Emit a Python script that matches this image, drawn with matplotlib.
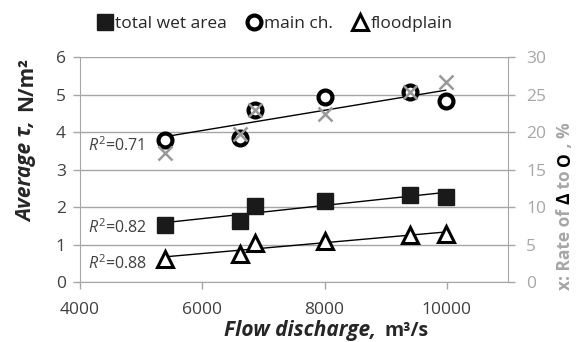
import numpy as np
import matplotlib
matplotlib.use("Agg")
import matplotlib.pyplot as plt
from matplotlib.lines import Line2D

plt.rcParams['font.family'] = ['Open Sans', 'DejaVu Sans']
plt.rcParams['mathtext.fontset'] = 'custom'
plt.rcParams['mathtext.rm'] = 'Open Sans'
plt.rcParams['mathtext.it'] = 'Open Sans:italic'

# flow discharge (m3/s)
discharge = [5400, 6620, 6870, 8000, 9400, 9980]
# average shear stress (N/m2)
tau_total = [1.53, 1.63, 2.04, 2.16, 2.33, 2.28]
tau_main = [3.78, 3.84, 4.58, 4.94, 5.06, 4.83]
tau_flood = [0.63, 0.74, 1.05, 1.09, 1.27, 1.28]
# rate of floodplain to main channel (%)
rate = [17.2, 19.8, 22.9, 22.4, 25.3, 26.7]

r2_labels = ["0.71", "0.82", "0.88"]
r2_pos = [3.63, 1.44, 0.5]

grey = '#a6a6a6'
dark = '#404040'

fig = plt.figure(figsize=(5.78, 3.42), dpi=100)
ax = fig.add_axes([0.138, 0.175, 0.741, 0.658])

ax.set_xlim(4000, 11000)
ax.set_ylim(0, 6)
ax.set_xticks([4000, 6000, 8000, 10000])
ax.set_yticks(range(7))
ax.grid(axis='y', color=grey, lw=1)
ax.set_axisbelow(True)
for s in ['left', 'bottom', 'right']:
    ax.spines[s].set_color(grey)
ax.spines['top'].set_visible(False)
ax.tick_params(colors=grey, labelcolor=dark, labelsize=12.5, length=5, width=1)
ax.tick_params(axis='x', pad=9)
ax.tick_params(axis='y', pad=5)

x = np.array(discharge)
xs = np.array([x.min(), x.max()])
for ys in [tau_main, tau_total, tau_flood]:
    k, b = np.polyfit(x, ys, 1)
    ax.plot(xs, k * xs + b, color='black', lw=1, zorder=2)

ax.plot(discharge, tau_total, 's', ms=12, color='#1a1a1a', zorder=3)
ax.plot(discharge, tau_main, 'o', ms=10, mfc='white', mec='black', mew=3, zorder=3)
ax.plot(discharge, tau_flood, '^', ms=11, mfc='white', mec='black', mew=2.2, zorder=3)

for lab, yp in zip(r2_labels, r2_pos):
    ax.text(4140, yp, "$R^2$=" + lab, fontsize=11.5, color=dark, va='center')

ax2 = ax.twinx()
ax2.set_ylim(0, 30)
ax2.set_yticks(range(0, 31, 5))
for s in ['left', 'bottom', 'right', 'top']:
    ax2.spines[s].set_visible(False)
ax2.tick_params(colors=grey, labelcolor=grey, labelsize=12.5, length=5, width=1, pad=8)
ax2.plot(discharge, rate, 'x', ms=10, mew=1.8, color='#999999', zorder=4)

# x label
fig.text(376 / 578, 0.018, "Flow discharge,", fontsize=15, fontweight='bold',
         style='italic', color='#262626', ha='right')
fig.text(384 / 578, 0.018, "m\u00b3/s", fontsize=14, fontweight='bold',
         color='#262626', ha='left')

# left y label
fig.text(27 / 578, 1 - 121 / 342, "Average \u03c4,", fontsize=15, fontweight='bold',
         style='italic', color='#262626', rotation=90, ha='center', va='top')
fig.text(27 / 578, 1 - 111 / 342, "N/m\u00b2", fontsize=15, fontweight='bold',
         color='#262626', rotation=90, ha='center', va='bottom')

# right y label, pieces stacked bottom to top
pieces = [("x: Rate of ", grey), ("\u0394", 'black'), (" to ", grey),
          ("O", 'black'), (" , %", grey)]
fig.canvas.draw()
r = fig.canvas.get_renderer()
ypix = 342 - 290
for txt, col in pieces:
    t = fig.text(565 / 578, ypix / 342, txt, fontsize=12.5, fontweight='bold',
                 color=col, rotation=90, ha='center', va='bottom')
    ypix += t.get_window_extent(r).height

handles = [
    Line2D([], [], marker='s', ls='', ms=12, color='#1a1a1a'),
    Line2D([], [], marker='o', ls='', ms=10, mfc='white', mec='black', mew=3),
    Line2D([], [], marker='^', ls='', ms=11, mfc='white', mec='black', mew=2.2),
]
fig.legend(handles, ["total wet area", "main ch.", "floodplain"], loc='center',
           bbox_to_anchor=(0.475, 0.93), ncol=3, frameon=False, fontsize=12.5,
           handlelength=0.9, handletextpad=0.15, columnspacing=1.1,
           labelcolor='#262626')

fig.savefig("out.png", dpi=100)
